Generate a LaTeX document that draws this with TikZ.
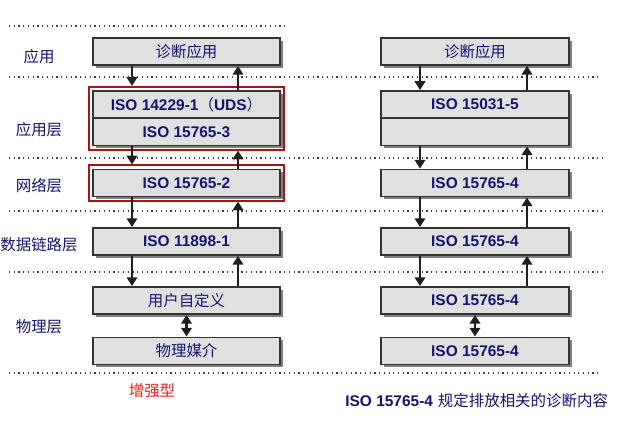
\documentclass[tikz,border=0pt]{standalone}
\usepackage{fontspec}
\setmainfont{Liberation Sans}
\newfontfamily\cjk{Noto Sans CJK SC}
\usetikzlibrary{arrows.meta,shadows,fit}
\definecolor{navy}{RGB}{20,20,110}
\definecolor{boxgray}{RGB}{224,224,224}
\definecolor{darkred}{RGB}{170,20,20}
\tikzset{
  layerbox/.style={draw=black!80, line width=1.1pt, fill=boxgray, minimum height=0.54cm,
     inner sep=0pt, text=navy, font=\fontsize{8.8}{10}\selectfont,
     drop shadow={shadow xshift=1.7pt, shadow yshift=-1.7pt, fill=black!50, opacity=1}},
  lbox/.style={layerbox, minimum width=3.74cm},
  rbox/.style={layerbox, minimum width=3.76cm},
  redframe/.style={draw=darkred, line width=1.1pt, inner sep=1.8pt},
  sepline/.style={line width=0.7pt, dotted, black!75},
  arr/.style={line width=1.6pt, black!88, -{Triangle[width=6pt,length=5pt]}},
  darr/.style={line width=1.6pt, black!88, {Triangle[width=6pt,length=5pt]}-{Triangle[width=6pt,length=5pt]}},
  layerlabel/.style={text=navy, font=\cjk\fontsize{8.8}{10}\selectfont, inner sep=0pt},
  isotext/.style={font=\bfseries\fontsize{8.8}{10}\selectfont},
  cjktext/.style={font=\cjk\fontsize{8.8}{10}\selectfont}
}
\begin{document}
\begin{tikzpicture}[x=0.02cm, y=-0.02cm]
\useasboundingbox (0,0) rectangle (625,422);
% separator lines
\coordinate (s0a) at (9,26);  \coordinate (s0b) at (286,26);
\coordinate (s1a) at (9,77);  \coordinate (s1b) at (600,77);
\coordinate (s2a) at (9,158); \coordinate (s2b) at (605,158);
\coordinate (s3a) at (9,211); \coordinate (s3b) at (605,211);
\coordinate (s4a) at (9,272); \coordinate (s4b) at (603,272);
\coordinate (s5a) at (9,373); \coordinate (s5b) at (600,373);
\foreach \i in {0,...,5} \draw[sepline] (s\i a) -- (s\i b);

% left column
\node[lbox, cjktext] (la) at (186.5,51.5) {诊断应用};
\node[lbox, isotext] (lu1) at (186.5,104.5) {ISO 14229-1{\cjk\mdseries （}UDS{\cjk\mdseries ）}};
\node[lbox, isotext] (lu2) at (186.5,132) {ISO 15765-3};
\node[lbox, isotext] (ln) at (186.5,183) {ISO 15765-2};
\node[lbox, isotext] (ld) at (186.5,241.5) {ISO 11898-1};
\node[lbox, cjktext] (lp1) at (186.5,300.5) {用户自定义};
\node[lbox, cjktext] (lp2) at (186.5,351) {物理媒介};
\node[redframe, fit=(lu1)(lu2)] (rf1) {};
\node[redframe, fit=(ln)] (rf2) {};

% right column
\node[rbox, cjktext] (ra) at (475,51.5) {诊断应用};
\node[rbox, isotext] (ru1) at (475,104.5) {ISO 15031-5};
\node[rbox] (ru2) at (475,132) {};
\node[rbox, isotext] (rn) at (475,183) {ISO 15765-4};
\node[rbox, isotext] (rd) at (475,241.5) {ISO 15765-4};
\node[rbox, isotext] (rp1) at (475,300.5) {ISO 15765-4};
\node[rbox, isotext] (rp2) at (475,351) {ISO 15765-4};

% arrow x positions
\coordinate (xLd) at (132,0); \coordinate (xLu) at (238,0);
\coordinate (xRd) at (420,0); \coordinate (xRu) at (527,0);

% left arrows
\draw[arr] (la.south -| xLd) -- (rf1.north -| xLd);
\draw[arr] (lu1.north -| xLu) -- (la.south -| xLu);
\draw[arr] (lu2.south -| xLd) -- (rf2.north -| xLd);
\draw[arr] (ln.north -| xLu) -- (rf1.south -| xLu);
\draw[arr] (ln.south -| xLd) -- (ld.north -| xLd);
\draw[arr] (ld.north -| xLu) -- (rf2.south -| xLu);
\draw[arr] (ld.south -| xLd) -- (lp1.north -| xLd);
\draw[arr] (lp1.north -| xLu) -- (ld.south -| xLu);
\draw[darr] (lp1.south) -- (lp2.north);

% right arrows
\draw[arr] (ra.south -| xRd) -- (ru1.north -| xRd);
\draw[arr] (ru1.north -| xRu) -- (ra.south -| xRu);
\draw[arr] (ru2.south -| xRd) -- (rn.north -| xRd);
\draw[arr] (rn.north -| xRu) -- (ru2.south -| xRu);
\draw[arr] (rn.south -| xRd) -- (rd.north -| xRd);
\draw[arr] (rd.north -| xRu) -- (rn.south -| xRu);
\draw[arr] (rd.south -| xRd) -- (rp1.north -| xRd);
\draw[arr] (rp1.north -| xRu) -- (rd.south -| xRu);
\draw[darr] (rp1.south) -- (rp2.north);

% layer labels
\node[layerlabel] (lab1) at (39,57) {应用};
\node[layerlabel] (lab2) at (39,130) {应用层};
\node[layerlabel] (lab3) at (39,186) {网络层};
\node[layerlabel] (lab4) at (39,245) {数据链路层};
\node[layerlabel] (lab5) at (39,327) {物理层};

\node[inner sep=0pt, text={rgb,255:red,240;green,30;blue,30}, font=\cjk\fontsize{8.8}{10}\selectfont] (enh) at (152,391) {增强型};
\node[inner sep=0pt, anchor=west, text=navy] (note) at (345,401) {{\bfseries\fontsize{8.8}{10}\selectfont ISO 15765-4} {\cjk\fontsize{8.8}{10}\selectfont 规定排放相关的诊断内容}};
\end{tikzpicture}
\end{document}
